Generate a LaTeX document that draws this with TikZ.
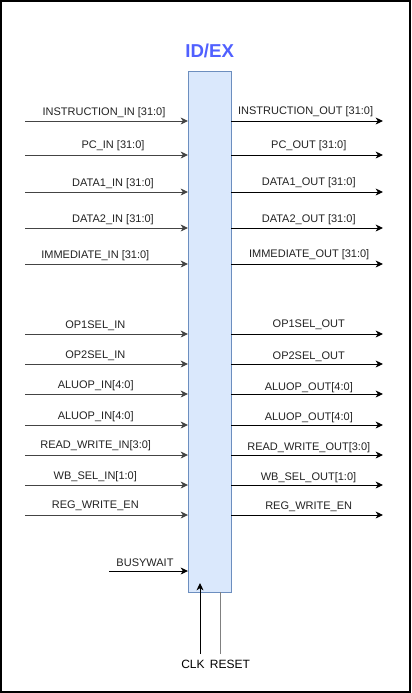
\documentclass[tikz,border=0pt]{standalone}
\usepackage{fontspec}
\setmainfont{Liberation Sans}
\usetikzlibrary{arrows.meta}
\definecolor{boxfill}{HTML}{DAE8FC}
\definecolor{boxline}{HTML}{6C8EBF}
\definecolor{titleblue}{HTML}{5060FF}
\definecolor{txt}{HTML}{222222}
\definecolor{leftline}{HTML}{444444}
\tikzset{
  lbl/.style={font=\fontsize{8.25pt}{10pt}\selectfont, text=txt, inner sep=0pt},
  sig/.style={line width=0.75pt, -{Stealth[length=5.5pt,width=5.2pt,inset=1.6pt]}},
  insig/.style={sig, draw=leftline},
  outsig/.style={sig, draw=black},
}
\begin{document}
\begin{tikzpicture}[x=0.75pt,y=-0.75pt]
\useasboundingbox (0,0) rectangle (411,693);
\draw[line width=1.5pt] (1,1) rectangle (410,692);
\node[draw=boxline, fill=boxfill, line width=0.75pt, minimum width=32.6pt, minimum height=390.75pt, inner sep=0pt, outer sep=0pt] (reg) at (209.75,331.5) {};
\node[font=\fontsize{14pt}{16pt}\selectfont\bfseries, text=titleblue, inner sep=0pt] (title) at (209.7,51) {ID/EX};
% inputs
\foreach \n/\y/\lx/\ly/\t in {
  a/121/104/113/{INSTRUCTION\_IN [31:0]},
  b/155/113/146/{PC\_IN [31:0]},
  c/192/113/183.3/{DATA1\_IN [31:0]},
  d/228/113/220/{DATA2\_IN [31:0]},
  e/264/95.3/255.7/{IMMEDIATE\_IN [31:0]},
  f/334/95.3/326/{OP1SEL\_IN},
  g/364/95.3/356/{OP2SEL\_IN},
  h/394/95.7/386/{ALUOP\_IN[4:0]},
  i/425/95.7/416.7/{ALUOP\_IN[4:0]},
  j/455/95.7/446/{READ\_WRITE\_IN[3:0]},
  k/485/95.3/476.7/{WB\_SEL\_IN[1:0]},
  l/515/95.3/506/{REG\_WRITE\_EN}
}{
  \coordinate (in\n) at (25,\y);
  \node[lbl] (inl\n) at (\lx,\ly) {\t};
  \draw[insig] (in\n) -- (in\n -| reg.west);
}
% outputs
\foreach \n/\y/\lx/\ly/\t in {
  a/121/305.6/112/{INSTRUCTION\_OUT [31:0]},
  b/155/308.8/145.7/{PC\_OUT [31:0]},
  c/192/308.7/182.3/{DATA1\_OUT [31:0]},
  d/228/308.7/219.3/{DATA2\_OUT [31:0]},
  e/264/309.2/254.3/{IMMEDIATE\_OUT [31:0]},
  f/334/308.8/325/{OP1SEL\_OUT},
  g/364/308.8/356.7/{OP2SEL\_OUT},
  h/394/308.8/387.7/{ALUOP\_OUT[4:0]},
  i/425/308.8/417.3/{ALUOP\_OUT[4:0]},
  j/455/308.8/447.3/{READ\_WRITE\_OUT[3:0]},
  k/485/308.5/477.3/{WB\_SEL\_OUT[1:0]},
  l/515/308.7/506.7/{REG\_WRITE\_EN}
}{
  \coordinate (out\n) at (383,\y);
  \node[lbl] (outl\n) at (\lx,\ly) {\t};
  \draw[outsig] (reg.east |- out\n) -- (out\n);
}
% busywait
\coordinate (bw) at (109,571);
\node[lbl] (bwl) at (145,562.7) {BUSYWAIT};
\draw[outsig] (bw) -- (bw -| reg.west);
% clk and reset
\node[lbl, font=\fontsize{9pt}{11pt}\selectfont, text=black] (clk) at (193,664) {CLK};
\node[lbl, font=\fontsize{9pt}{11pt}\selectfont, text=black] (rst) at (230,664) {RESET};
\coordinate (clkstart) at (200,654);
\coordinate (clkend) at (200,583);
\draw[outsig] (clkstart) -- (clkend);
\coordinate (rststart) at (220.7,654);
\draw[line width=0.75pt, draw=gray] (rststart) -- (rststart |- reg.south);
\end{tikzpicture}
\end{document}
